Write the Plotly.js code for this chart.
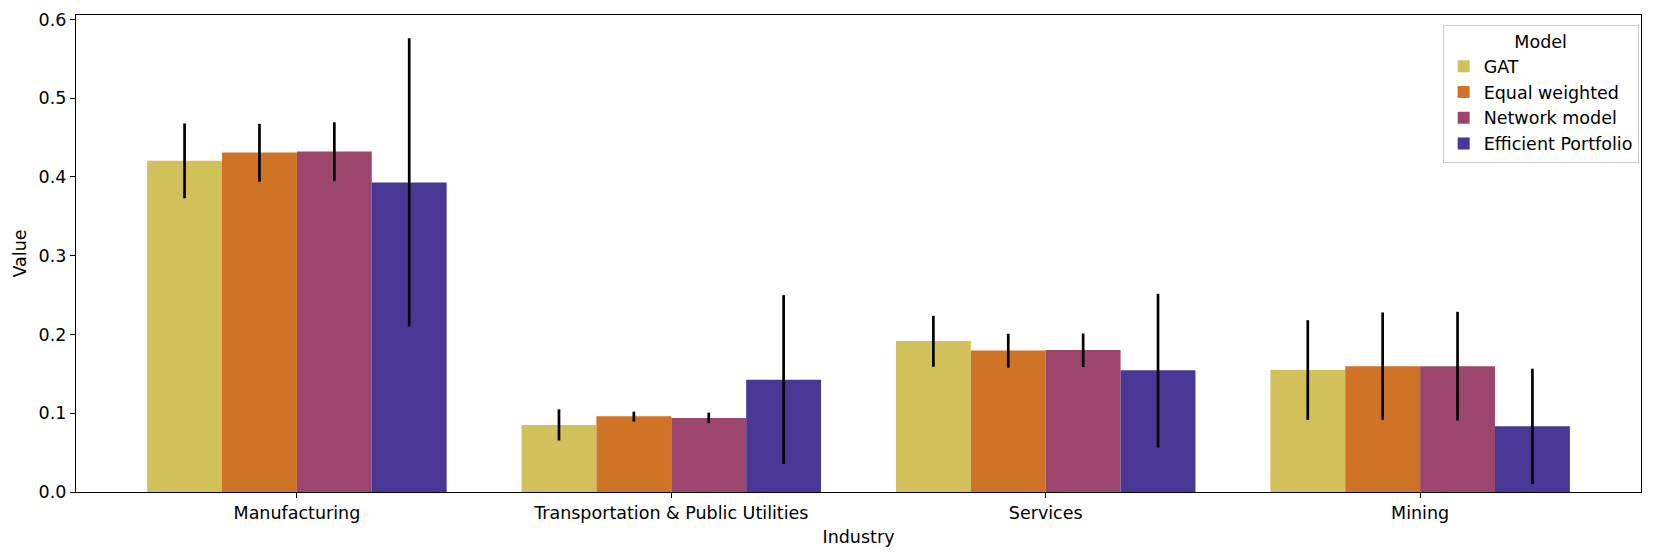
<!DOCTYPE html>
<html>
<head>
<meta charset="utf-8">
<script src="https://cdn.plot.ly/plotly-3.0.1.min.js"></script>
<style>
  html, body { margin: 0; padding: 0; background: #fff; }
  #chart { width: 1660px; height: 559px; }
</style>
</head>
<body>
<div id="chart"></div>
<script>
// Industries on the x axis
var industries = ['Manufacturing', 'Transportation & Public Utilities', 'Services', 'Mining'];

// Model names and bar colours
var models = ['GAT', 'Equal weighted', 'Network model', 'Efficient Portfolio'];
var colors = ['#d2c05b', '#cf7326', '#9d466d', '#483794'];

// Mean values per model (one value per industry)
var gatValues = [0.4205, 0.0852, 0.1916, 0.1549];
var equalValues = [0.431, 0.0963, 0.1798, 0.1596];
var networkValues = [0.4324, 0.0941, 0.1802, 0.1596];
var efficientValues = [0.393, 0.1426, 0.1545, 0.0836];

// Error bar ends (upper and lower) per model
var gatHigh = [0.468, 0.105, 0.2237, 0.2182];
var gatLow = [0.373, 0.0654, 0.159, 0.0916];
var equalHigh = [0.4675, 0.102, 0.2009, 0.228];
var equalLow = [0.394, 0.0894, 0.1578, 0.0916];
var networkHigh = [0.4695, 0.1008, 0.2013, 0.2288];
var networkLow = [0.395, 0.0874, 0.1587, 0.0907];
var efficientHigh = [0.5763, 0.25, 0.2516, 0.1566];
var efficientLow = [0.210, 0.0355, 0.0565, 0.0101];

var yTicks = [0, 0.1, 0.2, 0.3, 0.4, 0.5, 0.6];

var values = [gatValues, equalValues, networkValues, efficientValues];
var highs = [gatHigh, equalHigh, networkHigh, efficientHigh];
var lows = [gatLow, equalLow, networkLow, efficientLow];

var font = 'DejaVu Sans, sans-serif';
var fs = 17.5;

var traces = models.map(function(name, i) {
  return {
    type: 'bar',
    name: name,
    x: industries,
    y: values[i],
    marker: { color: colors[i], line: { width: 0 } },
    error_y: {
      type: 'data',
      symmetric: false,
      array: highs[i].map(function(h, j) { return h - values[i][j]; }),
      arrayminus: lows[i].map(function(l, j) { return values[i][j] - l; }),
      color: '#000000',
      thickness: 2.7,
      width: 0
    },
    hoverinfo: 'x+y+name'
  };
});

var layout = {
  width: 1660,
  height: 559,
  margin: { l: 76, r: 19, t: 15, b: 67 },
  paper_bgcolor: '#ffffff',
  plot_bgcolor: '#ffffff',
  font: { family: font, size: fs, color: '#000000' },
  barmode: 'group',
  bargap: 0.2,
  bargroupgap: 0,
  showlegend: true,
  xaxis: {
    type: 'category',
    range: [-0.59, 3.59],
    title: { text: 'Industry', font: { size: fs }, standoff: 8 },
    tickfont: { size: fs },
    showline: true,
    linecolor: '#000000',
    linewidth: 1.2,
    mirror: true,
    ticks: 'outside',
    ticklen: 5,
    tickwidth: 1.2,
    tickcolor: '#000000',
    showgrid: false,
    zeroline: false
  },
  yaxis: {
    range: [0, 0.6057],
    tickvals: yTicks,
    tickformat: '.1f',
    title: { text: 'Value', font: { size: fs }, standoff: 7 },
    tickfont: { size: fs },
    showline: true,
    linecolor: '#000000',
    linewidth: 1.2,
    mirror: true,
    ticks: 'outside',
    ticklen: 5,
    tickwidth: 1.2,
    tickcolor: '#000000',
    showgrid: false,
    zeroline: false
  },
  legend: {
    title: { text: 'Model', side: 'top center', font: { size: fs } },
    x: 0.9985,
    xanchor: 'right',
    y: 0.98,
    yanchor: 'top',
    bgcolor: 'rgba(255,255,255,0.8)',
    bordercolor: '#cccccc',
    borderwidth: 1,
    font: { size: fs },
    tracegroupgap: 0
  }
};

Plotly.newPlot('chart', traces, layout, { displayModeBar: false });
</script>
</body>
</html>
